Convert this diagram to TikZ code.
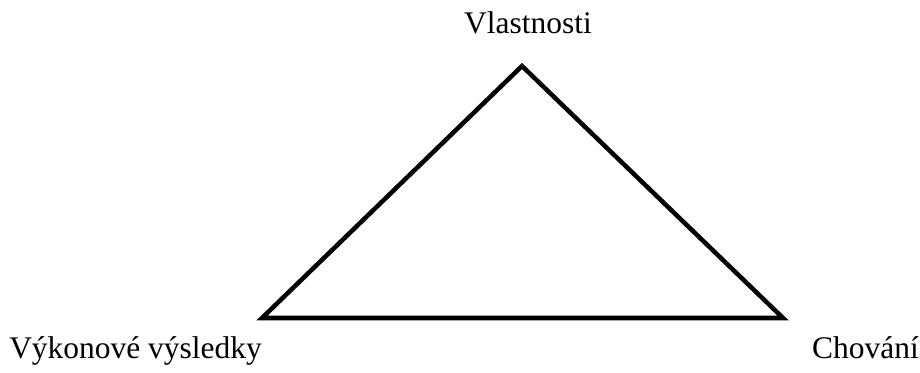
\documentclass[tikz,border=0pt]{standalone}
\usepackage{fontspec}
\setmainfont{Liberation Serif}
\tikzset{corner/.style={line width=3.4pt,line join=miter,draw=black}, vlabel/.style={inner sep=0pt,font=\fontsize{23.6}{28}\selectfont}}

\begin{document}
\begin{tikzpicture}[x=0.75pt,y=-0.75pt]
\useasboundingbox (0,0) rectangle (920,372);
\coordinate (vrchol) at (522,66);
\coordinate (levy) at (262,318);
\coordinate (pravy) at (783,318);
\draw[corner] (vrchol) -- (levy) -- (pravy) -- cycle;
\node[vlabel,anchor=base] (vlastnosti) at (528,33) {Vlastnosti};
\node[vlabel,anchor=base west] (vysledky) at (9,358) {Výkonové výsledky};
\node[vlabel,anchor=base east] (chovani) at (919,358) {Chování};
\end{tikzpicture}
\end{document}
